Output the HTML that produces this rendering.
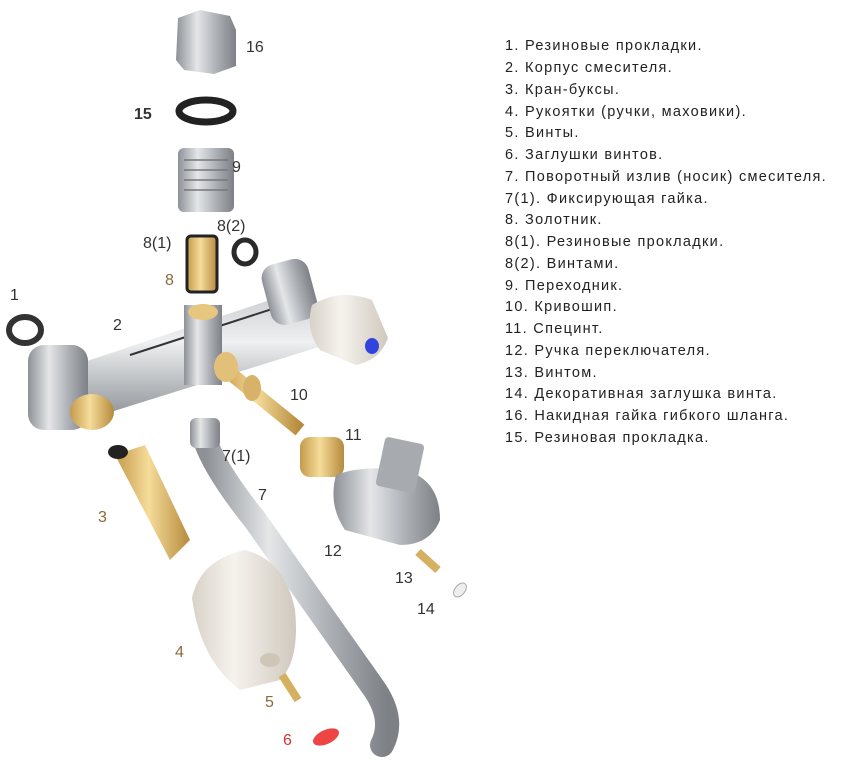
<!DOCTYPE html>
<html><head><meta charset="utf-8"><style>
html,body{margin:0;padding:0;background:#fff;width:850px;height:765px;overflow:hidden}
svg{display:block}
text{font-family:"Liberation Sans",sans-serif}
.n{font-size:16px;fill:#333}
.b{fill:#8a6a3a}
.l{font-size:14.5px;fill:#222;letter-spacing:1.3px}
</style></head><body>
<svg width="850" height="765" viewBox="0 0 850 765" xmlns="http://www.w3.org/2000/svg">
<defs>
<linearGradient id="g" x1="0" x2="1"><stop offset="0" stop-color="#8d9196"/><stop offset=".35" stop-color="#e4e6e8"/><stop offset=".7" stop-color="#a9adb2"/><stop offset="1" stop-color="#7d8186"/></linearGradient>
<linearGradient id="gv" x1="0" y1="0" x2="0" y2="1"><stop offset="0" stop-color="#c9ccd0"/><stop offset=".4" stop-color="#eef0f1"/><stop offset="1" stop-color="#8c9095"/></linearGradient>
<linearGradient id="br" x1="0" x2="1"><stop offset="0" stop-color="#c49a4a"/><stop offset=".45" stop-color="#f6dc9a"/><stop offset="1" stop-color="#b58a3c"/></linearGradient>
<linearGradient id="cr" x1="0" x2="1"><stop offset="0" stop-color="#d8d2c8"/><stop offset=".4" stop-color="#f6f3ee"/><stop offset="1" stop-color="#cfc8bd"/></linearGradient>
</defs>
<!-- 16 nut -->
<polygon points="178,18 200,10 230,16 236,30 236,66 214,74 184,70 176,60" fill="url(#g)"/>
<text class="n" x="246" y="52">16</text>
<!-- 15 ring -->
<ellipse cx="206" cy="111" rx="27" ry="11" fill="none" stroke="#222" stroke-width="7"/>
<text class="n" x="134" y="119" font-weight="bold">15</text>
<!-- 9 -->
<rect x="178" y="148" width="56" height="64" rx="6" fill="url(#g)"/>
<path d="M184 160h44M184 170h44M184 180h44M184 190h44" stroke="#777" stroke-width="1.5"/>
<text class="n" x="232" y="172">9</text>
<!-- 8 -->
<text class="n" x="143" y="248">8(1)</text>
<text class="n" x="217" y="231">8(2)</text>
<ellipse cx="245" cy="252" rx="11" ry="12" fill="none" stroke="#2a2a2a" stroke-width="5"/>
<rect x="187" y="236" width="30" height="56" rx="4" fill="url(#br)" stroke="#222" stroke-width="3"/>
<text class="n b" x="165" y="285">8</text>
<!-- 1 -->
<text class="n" x="10" y="300">1</text>
<ellipse cx="25" cy="330" rx="16" ry="13" fill="none" stroke="#333" stroke-width="6"/>
<!-- 2 body -->
<path d="M60 370 L300 290 L325 345 L85 420 Z" fill="url(#gv)"/>
<path d="M130 355 L300 300" stroke="#333" stroke-width="2"/>
<rect x="265" y="262" width="48" height="62" rx="14" fill="url(#g)" transform="rotate(-15 285 290)"/>
<rect x="28" y="345" width="60" height="85" rx="16" fill="url(#g)"/>
<ellipse cx="92" cy="412" rx="22" ry="18" fill="url(#br)"/>
<rect x="184" y="305" width="38" height="80" fill="url(#g)"/>
<ellipse cx="203" cy="312" rx="15" ry="8" fill="#e7c77e"/>
<text class="n" x="113" y="330">2</text>
<!-- blue handle -->
<path d="M312 305 Q340 288 372 300 L388 338 Q380 360 356 365 L320 350 Q305 330 312 305Z" fill="url(#cr)"/>
<ellipse cx="372" cy="346" rx="7" ry="8" fill="#3344dd"/>
<!-- 10 -->
<path d="M220 365 L300 430" stroke="url(#br)" stroke-width="14"/>
<ellipse cx="226" cy="367" rx="12" ry="15" fill="#e3c07a"/>
<ellipse cx="252" cy="388" rx="9" ry="13" fill="#d8b268"/>
<text class="n" x="290" y="400">10</text>
<!-- 11 -->
<rect x="300" y="437" width="44" height="40" rx="10" fill="url(#br)"/>
<text class="n" x="345" y="440">11</text>
<!-- 7 spout -->
<path d="M205 440 Q215 470 255 520 L375 690 Q395 720 382 745" fill="none" stroke="url(#g)" stroke-width="24" stroke-linecap="round"/>
<rect x="190" y="418" width="30" height="30" rx="6" fill="url(#g)"/>
<text class="n" x="222" y="461">7(1)</text>
<text class="n" x="258" y="500">7</text>
<!-- 12 -->
<path d="M336 475 Q360 465 405 470 Q440 480 440 520 Q430 545 400 545 L345 530 Q328 505 336 475Z" fill="url(#g)"/>
<rect x="380" y="440" width="40" height="50" rx="4" fill="#a7abb0" transform="rotate(12 400 465)"/>
<text class="n" x="324" y="556">12</text>
<!-- 13,14 -->
<path d="M418 552 L438 570" stroke="#d5b060" stroke-width="8"/>
<text class="n" x="395" y="583">13</text>
<ellipse cx="460" cy="590" rx="5" ry="8" fill="#eee" stroke="#aaa" transform="rotate(40 460 590)"/>
<text class="n" x="417" y="614">14</text>
<!-- 3 -->
<path d="M115 455 L145 445 L190 540 L170 560 Z" fill="url(#br)"/>
<ellipse cx="118" cy="452" rx="10" ry="7" fill="#222"/>
<text class="n b" x="98" y="522">3</text>
<!-- 4 -->
<path d="M192 598 Q200 560 245 550 Q285 560 295 610 Q300 660 280 680 L240 690 Q200 660 192 598Z" fill="url(#cr)"/>
<ellipse cx="270" cy="660" rx="10" ry="7" fill="#cfc6b8"/>
<text class="n b" x="175" y="657">4</text>
<!-- 5,6 -->
<path d="M282 675 L298 700" stroke="#d5b060" stroke-width="8"/>
<text class="n b" x="265" y="707">5</text>
<ellipse cx="326" cy="737" rx="14" ry="7" fill="#e44" transform="rotate(-25 326 737)"/>
<text class="n" x="283" y="745" style="fill:#c33">6</text>
<!-- list -->
<text class="l" x="505" y="50">1. Резиновые прокладки.</text>
<text class="l" x="505" y="72">2. Корпус смесителя.</text>
<text class="l" x="505" y="94">3. Кран-буксы.</text>
<text class="l" x="505" y="116">4. Рукоятки (ручки, маховики).</text>
<text class="l" x="505" y="137">5. Винты.</text>
<text class="l" x="505" y="159">6. Заглушки винтов.</text>
<text class="l" x="505" y="181">7. Поворотный излив (носик) смесителя.</text>
<text class="l" x="505" y="203">7(1). Фиксирующая гайка.</text>
<text class="l" x="505" y="224">8. Золотник.</text>
<text class="l" x="505" y="246">8(1). Резиновые прокладки.</text>
<text class="l" x="505" y="268">8(2). Винтами.</text>
<text class="l" x="505" y="290">9. Переходник.</text>
<text class="l" x="505" y="311">10. Кривошип.</text>
<text class="l" x="505" y="333">11. Специнт.</text>
<text class="l" x="505" y="355">12. Ручка переключателя.</text>
<text class="l" x="505" y="377">13. Винтом.</text>
<text class="l" x="505" y="398">14. Декоративная заглушка винта.</text>
<text class="l" x="505" y="420">16. Накидная гайка гибкого шланга.</text>
<text class="l" x="505" y="442">15. Резиновая прокладка.</text>
</svg>
</body></html>
